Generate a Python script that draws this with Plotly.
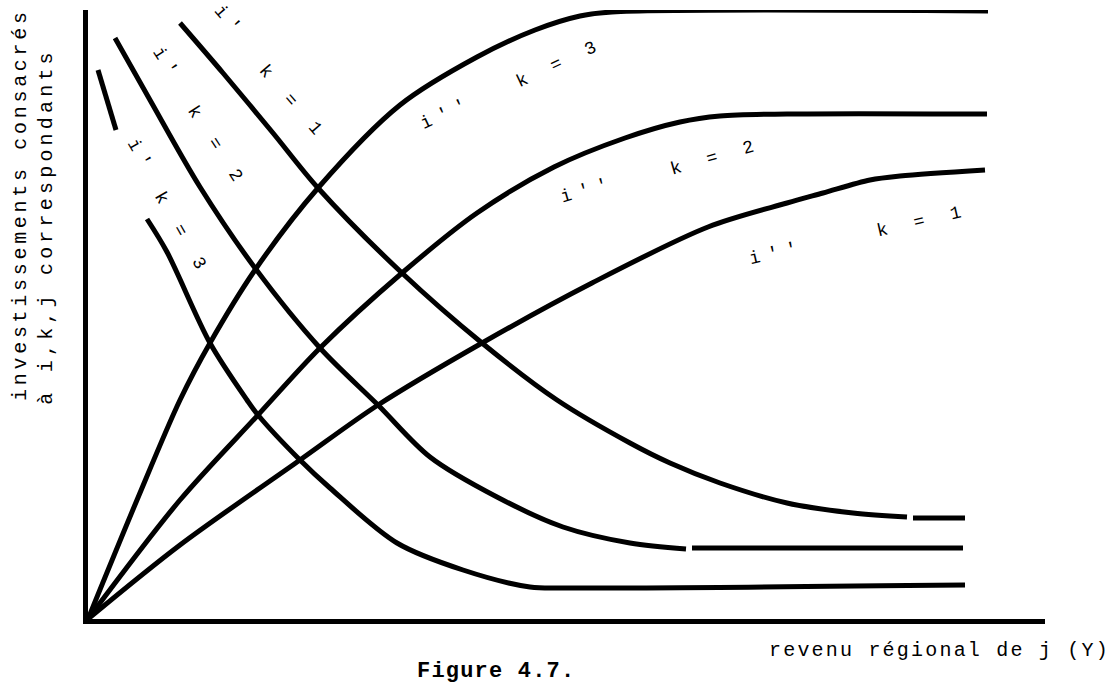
import plotly.graph_objects as go

# Values (x: income Y, y: investment), arbitrary units
# rising curves i'' (k = 1, 2, 3)
ipp_k3_x = [0, 49, 92, 122, 167, 230, 312, 389, 447, 492, 524, 900]
ipp_k3_y = [0, 119, 219, 276, 349, 431, 514, 562, 589, 603, 607, 608]

ipp_k2_x = [0, 92, 170, 232, 314, 389, 466, 537, 592, 632, 699, 899]
ipp_k2_y = [0, 119, 204, 271, 346, 406, 452, 481, 497, 503, 505, 505]

ipp_k1_x = [0, 92, 212, 290, 394, 504, 620, 699, 735, 782, 812, 897]
ipp_k1_y = [0, 74, 159, 214, 276, 336, 392, 416, 426, 439, 443, 449]

# falling curves i' (k = 1, 2, 3); None = gap in the drawn stroke
ip_k1_x = [92, 135, 185, 230, 314, 394, 469, 542, 582, 632, 699, 765, 819, None, 825, 877]
ip_k1_y = [596, 546, 486, 431, 346, 276, 219, 176, 156, 136, 116, 106, 102, None, 101, 101]

ip_k2_x = [27, 62, 112, 167, 232, 290, 342, 409, 475, 542, 598, None, 604, 875]
ip_k2_y = [581, 519, 432, 351, 271, 214, 162, 122, 92, 76, 70, None, 71, 71]

ip_k3_x = [10, 28, None, 59, 79, 122, 159, 170, 212, 242, 309, 375, 442, 482, 877]
ip_k3_y = [549, 489, None, 400, 367, 276, 219, 204, 159, 131, 76, 49, 32, 31, 34]

# curve labels: (text, x, y, angle)
label_text = ["i'", "k = 1", "i'", "k = 2", "i'", "k = 3",
              "i''", "k = 3", "i''", "k = 2", "i''", "k = 1"]
label_x = [142, 205, 79, 129, 53, 94, 359, 472, 500, 628, 689, 835]
label_y = [597, 516, 554, 472, 462, 385, 506, 556, 429, 462, 366, 398]
label_angle = [49, 49, 57, 57, 60, 60, -25, -25, -16, -16, -13, -13]

y_title_1 = "investissements consacrés"
y_title_2 = "à i,k,j correspondants"
x_title = "revenu régional de j (Y)"
caption = "Figure 4.7."

MONO = "Liberation Mono, DejaVu Sans Mono, monospace"


def spaced(text, sp):
    return f'<span style="letter-spacing:{sp}px">{text}</span>'


fig = go.Figure()
for xs, ys in [(ipp_k3_x, ipp_k3_y), (ipp_k2_x, ipp_k2_y), (ipp_k1_x, ipp_k1_y),
               (ip_k1_x, ip_k1_y), (ip_k2_x, ip_k2_y), (ip_k3_x, ip_k3_y)]:
    fig.add_trace(go.Scatter(
        x=xs, y=ys, mode="lines",
        line=dict(color="black", width=5, shape="spline", smoothing=0.9),
        connectgaps=False, hoverinfo="skip", showlegend=False,
    ))

annotations = []
for t, x, y, a in zip(label_text, label_x, label_y, label_angle):
    annotations.append(dict(
        x=x, y=y, xref="x", yref="y", text=spaced(t, 8), textangle=a,
        xanchor="center", yanchor="middle",
        showarrow=False, font=dict(family=MONO, size=18, color="black"),
    ))

annotations += [
    dict(x=-0.070, y=0.680, xref="paper", yref="paper", text=spaced(y_title_1, 3.7),
         textangle=-90, showarrow=False, xanchor="center", yanchor="middle",
         font=dict(family=MONO, size=20, color="black")),
    dict(x=-0.043, y=0.644, xref="paper", yref="paper", text=spaced(y_title_2, 4.2),
         textangle=-90, showarrow=False, xanchor="center", yanchor="middle",
         font=dict(family=MONO, size=20, color="black")),
    dict(x=0.890, y=-0.051, xref="paper", yref="paper", text=spaced(x_title, 2.2),
         showarrow=False, xanchor="center", yanchor="middle",
         font=dict(family=MONO, size=20, color="black")),
    dict(x=0.4263, y=-0.087, xref="paper", yref="paper",
         text="<b>" + spaced(caption, 1.2) + "</b>",
         showarrow=False, xanchor="center", yanchor="middle",
         font=dict(family=MONO, size=22, color="black")),
]

fig.update_layout(
    width=1114, height=689,
    margin=dict(l=88, r=69, t=10, b=70),
    paper_bgcolor="white", plot_bgcolor="white",
    annotations=annotations,
    xaxis=dict(range=[0, 957], showgrid=False, zeroline=False, showticklabels=False,
               ticks="", showline=True, linecolor="black", linewidth=5),
    yaxis=dict(range=[0, 609], showgrid=False, zeroline=False, showticklabels=False,
               ticks="", showline=True, linecolor="black", linewidth=5),
)

fig.write_html(
    "out.html",
    config={"displayModeBar": False, "staticPlot": True},
    post_script="document.body.style.margin='0px';document.body.style.overflow='hidden';",
)
